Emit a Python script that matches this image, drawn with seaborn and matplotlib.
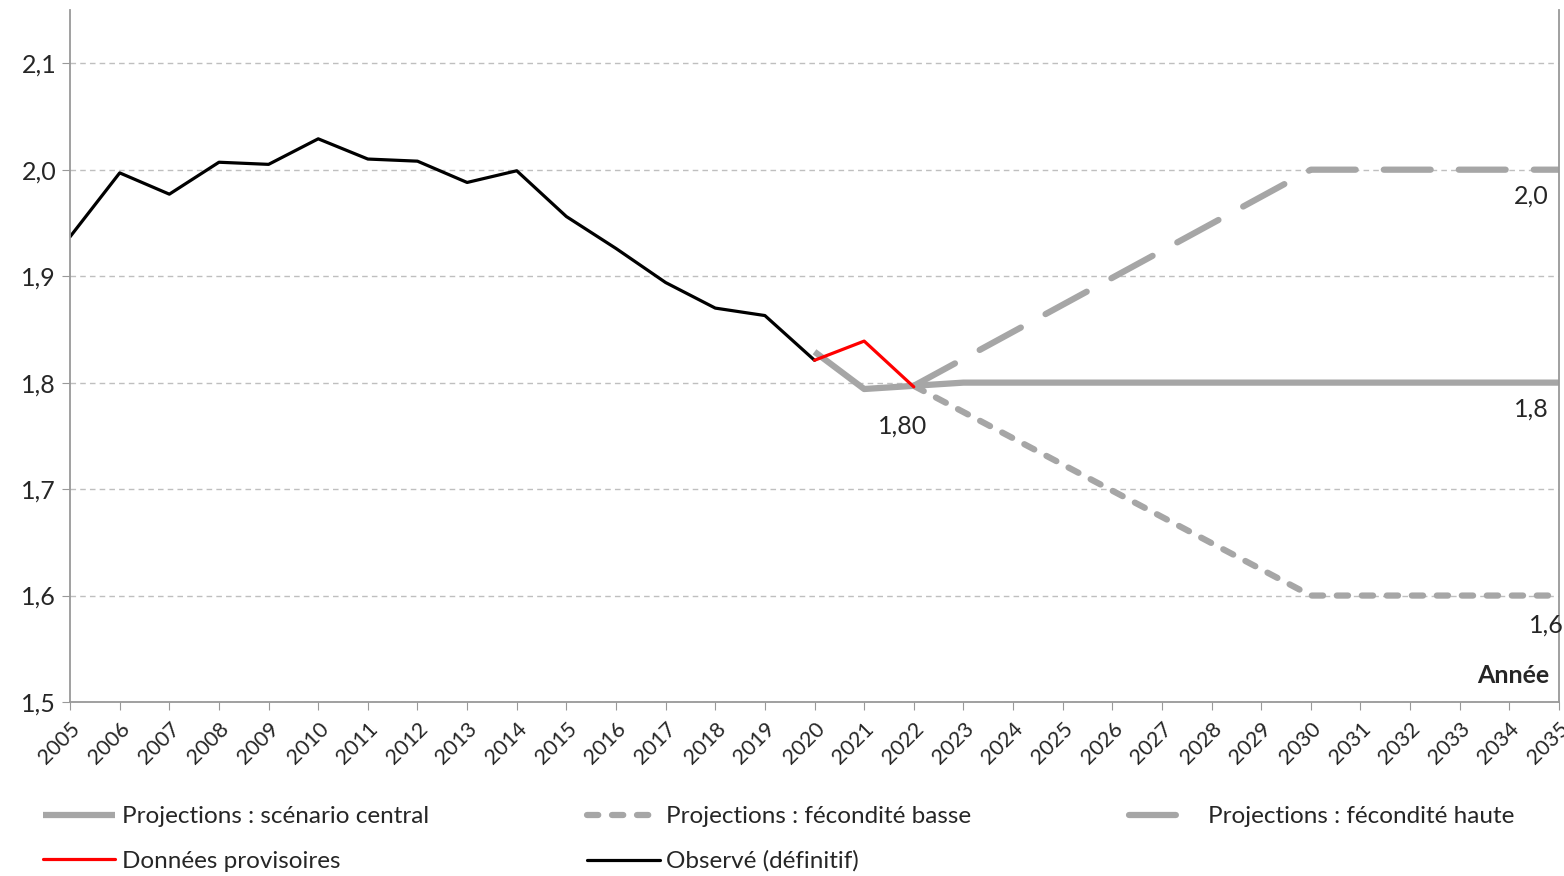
import numpy as np
import pandas as pd
import seaborn as sns
import matplotlib
matplotlib.use("Agg")
import matplotlib.pyplot as plt

# Observed / provisional / projected fertility values
years_obs = list(range(2005, 2021))
obs = [1.937, 1.997, 1.977, 2.007, 2.005, 2.029, 2.010, 2.008, 1.988, 1.999,
       1.956, 1.926, 1.894, 1.870, 1.863, 1.821]

years_prov = [2020, 2021, 2022]
prov = [1.821, 1.839, 1.796]

years_central = list(range(2020, 2036))
central = [1.829, 1.794, 1.797] + [1.80] * 13

years_low = [2022, 2030, 2035]
low = [1.797, 1.60, 1.60]

years_high = [2022, 2030, 2035]
high = [1.797, 2.00, 2.00]

year_ticks = list(range(2005, 2036))
y_ticks = [1.5, 1.6, 1.7, 1.8, 1.9, 2.0, 2.1]
y_labels = ["1,5", "1,6", "1,7", "1,8", "1,9", "2,0", "2,1"]

GREY = "#a6a6a6"

sns.set_style("white")
plt.rcParams["font.family"] = ["Lato", "DejaVu Sans"]

fig = plt.figure(figsize=(15.64, 8.76), dpi=100)
ax = fig.add_axes([0.0448, 0.1986, 0.952, 0.790])

ax.yaxis.grid(True, color="#bfbfbf", linestyle=(0, (4, 3)), linewidth=1)
ax.set_axisbelow(True)

sns.lineplot(x=years_high, y=high, ax=ax, color=GREY, lw=4.5,
             linestyle=(0, (7.5, 4.5)), dash_capstyle="round",
             label="Projections : fécondité haute")
sns.lineplot(x=years_low, y=low, ax=ax, color=GREY, lw=4.5,
             linestyle=(0, (1.8, 2.2)), dash_capstyle="round",
             label="Projections : fécondité basse")
sns.lineplot(x=years_central, y=central, ax=ax, color=GREY, lw=4.5,
             solid_capstyle="butt", label="Projections : scénario central")
sns.lineplot(x=years_obs, y=obs, ax=ax, color="black", lw=2.3,
             label="Observé (définitif)")
sns.lineplot(x=years_prov, y=prov, ax=ax, color="red", lw=2.3,
             label="Données provisoires")

ax.set_xlim(2005, 2035)
ax.set_ylim(1.5, 2.15)
ax.set_xticks(year_ticks)
ax.set_xticklabels([str(y) for y in year_ticks], rotation=45, ha="right",
                   rotation_mode="anchor", fontsize=15.5)
ax.set_yticks(y_ticks)
ax.set_yticklabels(y_labels, fontsize=18)
ax.tick_params(axis="both", direction="out", length=6, color="#999999",
               bottom=True, left=True, pad=4)
ax.tick_params(axis="x", pad=6)
ax.set_xlabel("")
ax.set_ylabel("")

for side in ["left", "bottom", "right"]:
    ax.spines[side].set_color("#999999")
    ax.spines[side].set_linewidth(1.3)
ax.spines["top"].set_visible(False)

ax.text(2021.78, 1.759, "1,80", fontsize=18, ha="center", va="center")
ax.text(2034.45, 1.975, "2,0", fontsize=18, ha="center", va="center")
ax.text(2034.45, 1.775, "1,8", fontsize=18, ha="center", va="center")
ax.text(2034.75, 1.572, "1,6", fontsize=18, ha="center", va="center")
ax.text(2034.8, 1.525, "Année", fontsize=18, ha="right", va="center",
        fontweight="bold")

handles, labels = ax.get_legend_handles_labels()
lookup = dict(zip(labels, handles))
order = ["Projections : scénario central", "Données provisoires",
         "Projections : fécondité basse", "Observé (définitif)",
         "Projections : fécondité haute"]
ax.get_legend().remove()
fig.legend([lookup[k] for k in order], order, ncol=3, loc="center left",
           bbox_to_anchor=(0.021, 0.042), frameon=False, fontsize=17.5,
           handlelength=3.0, handletextpad=0.25, columnspacing=6.5,
           labelspacing=0.95, borderaxespad=0)

fig.savefig("out.png", dpi=100)
